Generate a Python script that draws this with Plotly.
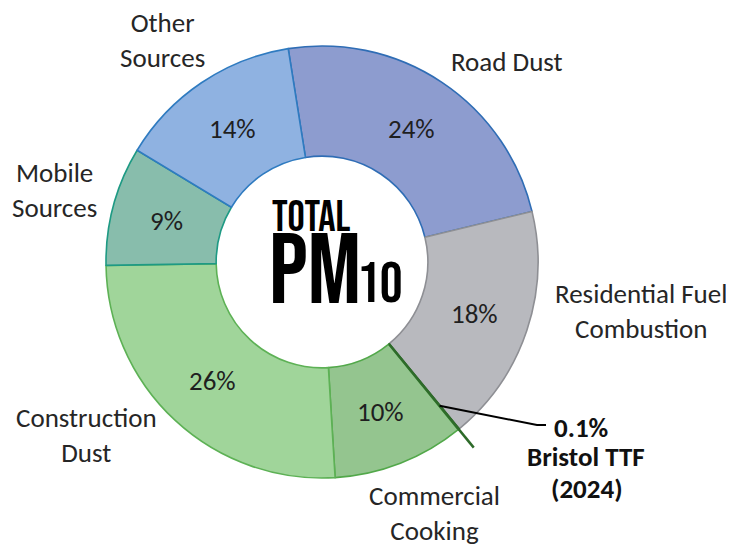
import math
import plotly.graph_objects as go

# ---- data ----
categories = ["Road Dust", "Residential Fuel Combustion", "Bristol TTF (2024)",
              "Commercial Cooking", "Construction Dust", "Mobile Sources", "Other Sources"]
values = [24, 18, 0.1, 10, 26, 9, 14]
pct_labels = ["24%", "18%", "", "10%", "26%", "9%", "14%"]
outer_labels = ["Road Dust", "Residential Fuel<br>Combustion", "",
                "Commercial<br>Cooking", "Construction<br>Dust", "Mobile<br>Sources", "Other<br>Sources"]
callout_lines = ["0.1%", "Bristol TTF", "(2024)"]
center_title = ["TOTAL", "PM", "10"]

fill_colors = ["#8D9CCF", "#B8B9BE", "#2E6B2A", "#94C58F", "#A0D59A", "#88BDAC", "#8FB2E1"]
line_colors = ["#2F6DB5", "#8E8F94", "#2E6B2A", "#52A84A", "#5DB155", "#1E9A84", "#2F7BC0"]

# page has an 8px body margin, so the figure is drawn at (8, 8)
OFF = 8
W, H = 734 - OFF, 550 - OFF
CX, CY, R = 322 - OFF, 262 - OFF, 216
HOLE = 0.49
ROT = -9

def px(x):  # reference-picture x -> paper
    return (x - OFF) / W

def py(y):
    return 1 - (y - OFF) / H

def fx(x):  # figure x -> paper
    return x / W

def fy(y):
    return 1 - y / H

fig = go.Figure()
fig.add_trace(go.Pie(
    labels=categories, values=values,
    textinfo="none",
    hole=HOLE, sort=False, direction="clockwise", rotation=ROT,
    marker=dict(colors=fill_colors, line=dict(color=line_colors, width=1.6)),
    showlegend=False, hoverinfo="label+value",
    domain=dict(x=[fx(CX - R), fx(CX + R)], y=[fy(CY + R), fy(CY - R)]),
))

total = sum(values)

def angle_at(cum):
    return math.radians(ROT + 360 * cum / total)

def polar(theta, r):
    return CX + r * math.sin(theta), CY - r * math.cos(theta)

# percentage labels at the middle of each ring segment
cum = 0
for v, t in zip(values, pct_labels):
    mid = angle_at(cum + v / 2)
    cum += v
    if not t:
        continue
    x, y = polar(mid, R * (1 + HOLE) / 2)
    fig.add_annotation(x=fx(x), y=fy(y), xref="paper", yref="paper", text=t, showarrow=False,
                       xanchor="center", yanchor="middle",
                       font=dict(family="Carlito, Lato, sans-serif", size=27, color="#1f1f1f"))

# Bristol TTF slice marker line, extending past the ring
theta = angle_at(sum(values[:2]) + values[2] / 2)
x0, y0 = polar(theta, R * HOLE)
x1, y1 = polar(theta, R * 1.11)
fig.add_shape(type="line", xref="paper", yref="paper", x0=fx(x0), y0=fy(y0), x1=fx(x1), y1=fy(y1),
              line=dict(color="#2E6B2A", width=2.5), layer="above")
lx0, ly0 = polar(theta, R * 0.86)
fig.add_shape(type="path", xref="paper", yref="paper",
              path=f"M {fx(lx0)},{fy(ly0)} L {px(537)},{py(425)} L {px(546)},{py(425)}",
              line=dict(color="#000000", width=2), layer="above")

label_font = dict(family="Carlito, Lato, sans-serif", size=27, color="#262626")
label_pos = [(507, 62), (641, 311), None, (434, 513), (86, 435), (54, 190), (162, 40)]
for lab, pos in zip(outer_labels, label_pos):
    if pos is None:
        continue
    fig.add_annotation(x=px(pos[0]), y=py(pos[1]), xref="paper", yref="paper", text=lab,
                       showarrow=False, align="center", xanchor="center", yanchor="middle",
                       font=label_font)

callout_pos = [(581, 427), (586, 456), (587, 488)]
for t, (x, y) in zip(callout_lines, callout_pos):
    fig.add_annotation(x=px(x), y=py(y), xref="paper", yref="paper", text="<b>" + t + "</b>",
                       showarrow=False, xanchor="center", yanchor="middle",
                       font=dict(family="Carlito, Lato, sans-serif", size=27, color="#111111"))

# centre title
center_font = "Bebas Neue, League Gothic, Anton, sans-serif"
center_specs = [((311, 218), 43), ((315, 273), 100), ((380, 285), 57)]
for t, ((x, y), s) in zip(center_title, center_specs):
    fig.add_annotation(x=px(x), y=py(y), xref="paper", yref="paper", text=t,
                       showarrow=False, xanchor="center", yanchor="middle",
                       font=dict(family=center_font, size=s, color="#000000"))

fig.update_layout(width=W, height=H, margin=dict(l=0, r=0, t=0, b=0),
                  paper_bgcolor="white", plot_bgcolor="white")
fig.write_html("out.html")
